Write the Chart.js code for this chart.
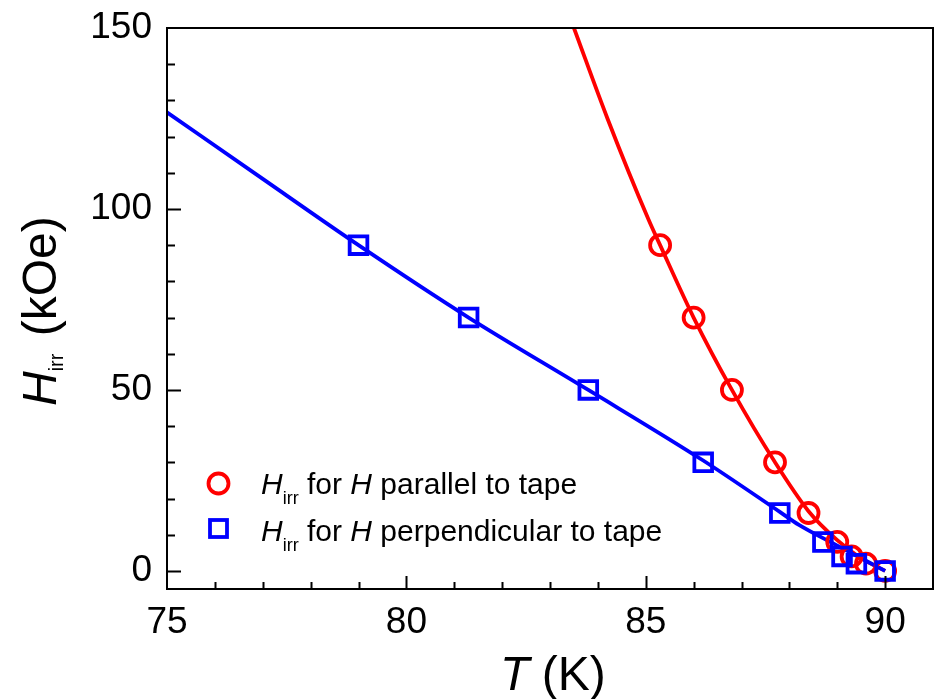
<!DOCTYPE html>
<html>
<head>
<meta charset="utf-8">
<script src="https://cdn.jsdelivr.net/npm/chart.js@4.4.1/dist/chart.umd.min.js"></script>
<style>
  html, body { margin: 0; padding: 0; background: #fff; overflow: hidden; }
  canvas { display: block; }
</style>
</head>
<body>
<canvas id="hirrChart" width="936" height="699"></canvas>
<script>
// measured points
const tParallel = [85.3, 86.0, 86.8, 87.7, 88.4, 89.0, 89.3, 89.6, 90.0];
const hParallel = [90, 70, 50, 30, 16, 8, 4, 2, 0];
const tPerp = [79.0, 81.3, 83.8, 86.2, 87.8, 88.7, 89.1, 89.4, 90.0];
const hPerp = [90, 70, 50, 30, 16, 8, 4, 2, 0];

// fitted curves
const tParallelFit = [83.5, 84.2, 85.06, 85.3, 86.0, 86.8, 87.7, 88.4, 89.0, 89.5, 90.0];
const hParallelFit = [150, 125, 97, 90, 70, 50, 30, 16.5, 8.5, 3.5, 0];
const tPerpFit = [75, 77, 79, 81.3, 83.8, 86.2, 87.8, 88.2, 89.0, 90.0];
const hPerpFit = [126.7, 108.3, 90, 70, 50, 30.5, 16.3, 12.7, 7.0, 0];

const xTicks = [75, 80, 85, 90];
const yTicks = [0, 50, 100, 150];

const RED = '#ff0000';
const BLUE = '#0000ff';
const FONT = '"Liberation Sans", Arial, sans-serif';

const toXY = (xs, ys) => xs.map((x, i) => ({ x: x, y: ys[i] }));

// draws a run of text pieces with different fonts / baseline shifts
function drawRich(ctx, parts, x, y) {
  let cx = x;
  parts.forEach(p => {
    ctx.font = p.font;
    ctx.fillText(p.t, cx, y + (p.dy || 0));
    cx += ctx.measureText(p.t).width + (p.gap || 0);
  });
}

// no label overflow padding, the frame is placed by hand
function noPad(s) {
  s.paddingTop = 0; s.paddingBottom = 0; s.paddingLeft = 0; s.paddingRight = 0;
}

const framePlugin = {
  id: 'frame',
  afterDraw(chart) {
    const ctx = chart.ctx;
    const a = chart.chartArea;
    const xs = chart.scales.x, ys = chart.scales.y;
    ctx.save();
    ctx.strokeStyle = '#000';
    ctx.lineWidth = 2;
    ctx.strokeRect(a.left, a.top, a.right - a.left, a.bottom - a.top);

    // inward ticks, left and bottom only
    ctx.beginPath();
    for (let t = 76; t <= 90; t++) {
      const px = Math.round(xs.getPixelForValue(t)) + 0.5;
      const len = (t % 5 === 0) ? 13 : 7;
      ctx.moveTo(px, a.bottom);
      ctx.lineTo(px, a.bottom - len);
    }
    for (let h = 0; h <= 140; h += 10) {
      const py = Math.round(ys.getPixelForValue(h)) + 0.5;
      const len = (h % 50 === 0) ? 14 : 8;
      ctx.moveTo(a.left, py);
      ctx.lineTo(a.left + len, py);
    }
    ctx.stroke();

    // axis titles
    ctx.fillStyle = '#000';
    ctx.textBaseline = 'alphabetic';
    ctx.textAlign = 'left';
    drawRich(ctx, [
      { t: 'T', font: 'italic 48px ' + FONT, gap: -1 },
      { t: ' (K)', font: '48px ' + FONT }
    ], 500, 690);

    ctx.save();
    ctx.translate(56, 406);
    ctx.rotate(-Math.PI / 2);
    drawRich(ctx, [
      { t: 'H', font: 'italic 48px ' + FONT },
      { t: 'irr', font: '20px ' + FONT, dy: 7, gap: 4 },
      { t: ' (kOe)', font: '48px ' + FONT }
    ], 0, 0);
    ctx.restore();

    // legend
    ctx.lineWidth = 3.8;
    ctx.strokeStyle = RED;
    ctx.beginPath();
    ctx.arc(218.5, 483.5, 10, 0, Math.PI * 2);
    ctx.stroke();
    ctx.strokeStyle = BLUE;
    ctx.strokeRect(210, 520, 17, 17);

    ctx.fillStyle = '#000';
    drawRich(ctx, [
      { t: 'H', font: 'italic 30px ' + FONT },
      { t: 'irr', font: '18px ' + FONT, dy: 10 },
      { t: ' for ', font: '30px ' + FONT },
      { t: 'H', font: 'italic 30px ' + FONT },
      { t: ' parallel to tape', font: '30px ' + FONT }
    ], 261, 494);
    drawRich(ctx, [
      { t: 'H', font: 'italic 30px ' + FONT },
      { t: 'irr', font: '18px ' + FONT, dy: 10 },
      { t: ' for ', font: '30px ' + FONT },
      { t: 'H', font: 'italic 30px ' + FONT },
      { t: ' perpendicular to tape', font: '30px ' + FONT }
    ], 261, 541);
    ctx.restore();
  }
};

const ctx = document.getElementById('hirrChart').getContext('2d');

const data = {
  datasets: [
    {
      label: 'Hirr for H perpendicular to tape',
      data: toXY(tPerp, hPerp),
      showLine: false,
      pointStyle: 'rect',
      pointRadius: 12.5,
      pointBorderWidth: 3.8,
      borderColor: BLUE,
      backgroundColor: 'rgba(0,0,0,0)',
      order: 0
    },
    {
      label: 'Hirr for H parallel to tape',
      data: toXY(tParallel, hParallel),
      showLine: false,
      pointStyle: 'circle',
      pointRadius: 10,
      pointBorderWidth: 3.8,
      borderColor: RED,
      backgroundColor: 'rgba(0,0,0,0)',
      order: 1
    },
    {
      label: 'perp fit',
      data: toXY(tPerpFit, hPerpFit),
      showLine: true,
      pointRadius: 0,
      borderColor: BLUE,
      borderWidth: 3.8,
      cubicInterpolationMode: 'monotone',
      order: 2
    },
    {
      label: 'parallel fit',
      data: toXY(tParallelFit, hParallelFit),
      showLine: true,
      pointRadius: 0,
      borderColor: RED,
      borderWidth: 3.8,
      cubicInterpolationMode: 'monotone',
      order: 3
    }
  ]
};

const config = {
  type: 'scatter',
  data,
  options: {
    responsive: false,
    animation: false,
    layout: { autoPadding: false, padding: { top: 28, right: 3, left: 0, bottom: 0 } },
    plugins: {
      legend: { display: false },
      tooltip: { enabled: false }
    },
    scales: {
      x: {
        type: 'linear',
        min: 75,
        max: 91,
        afterBuildTicks: s => { s.ticks = xTicks.map(v => ({ value: v })); },
        afterFit: s => { s.height = 110; noPad(s); },
        grid: { display: false, drawTicks: false },
        border: { display: false },
        ticks: { color: '#000', font: { family: FONT, size: 37 }, padding: 12, maxRotation: 0 }
      },
      y: {
        type: 'linear',
        min: -5,
        max: 150,
        afterBuildTicks: s => { s.ticks = yTicks.map(v => ({ value: v })); },
        afterFit: s => { s.width = 167; noPad(s); },
        grid: { display: false, drawTicks: false },
        border: { display: false },
        ticks: { color: '#000', font: { family: FONT, size: 37 }, padding: 15 }
      }
    }
  },
  plugins: [framePlugin]
};

const hirrChart = new Chart(ctx, config);
</script>
</body>
</html>
